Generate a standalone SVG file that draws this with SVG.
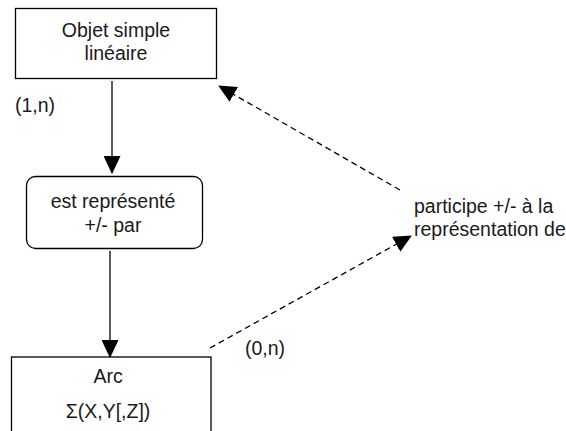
<svg xmlns="http://www.w3.org/2000/svg" width="566" height="431" viewBox="0 0 566 431">
<defs>
<style>
.box{fill:#fff;stroke:#000;stroke-width:1.3}
.t{font-family:"Liberation Sans",Arial,sans-serif;font-size:19.5px;fill:#1a1a1a}
.c{text-anchor:middle}
.ln{fill:none;stroke:#000;stroke-width:1.3}
.dash{stroke-dasharray:6 4}
</style>
<marker id="ah" viewBox="0 0 18 17" refX="17" refY="8.5" markerWidth="18" markerHeight="17" markerUnits="userSpaceOnUse" orient="auto">
<path d="M0,0 L18,8.5 L0,17 z" fill="#000"/>
</marker>
</defs>
<rect width="566" height="431" fill="#fff"/>
<g id="connectors">
<line class="ln" x1="112" y1="81" x2="112" y2="173" marker-end="url(#ah)"/>
<line class="ln" x1="110" y1="251" x2="110" y2="357" marker-end="url(#ah)"/>
<line class="ln dash" x1="400" y1="190" x2="219" y2="86" marker-end="url(#ah)"/>
<line class="ln dash" x1="210" y1="348" x2="411" y2="236" marker-end="url(#ah)"/>
</g>
<g id="objet">
<rect class="box" x="15.5" y="8.5" width="201" height="70"/>
<text class="t c" x="116" y="37">Objet simple</text>
<text class="t c" x="116" y="60">linéaire</text>
</g>
<g id="represente">
<rect class="box" x="26.5" y="176.5" width="176" height="72" rx="9"/>
<text class="t c" x="113" y="208">est représenté</text>
<text class="t c" x="113" y="232">+/- par</text>
</g>
<g id="arc">
<rect class="box" x="11.5" y="357" width="199.5" height="90"/>
<text class="t c" x="108" y="383">Arc</text>
<text class="t c" x="108" y="418">Σ(X,Y[,Z])</text>
</g>
<g id="labels">
<text class="t" x="15" y="112">(1,n)</text>
<text class="t" x="245" y="355">(0,n)</text>
<text class="t" x="414" y="213">participe +/- à la</text>
<text class="t" x="414" y="236">représentation de</text>
</g>
</svg>
